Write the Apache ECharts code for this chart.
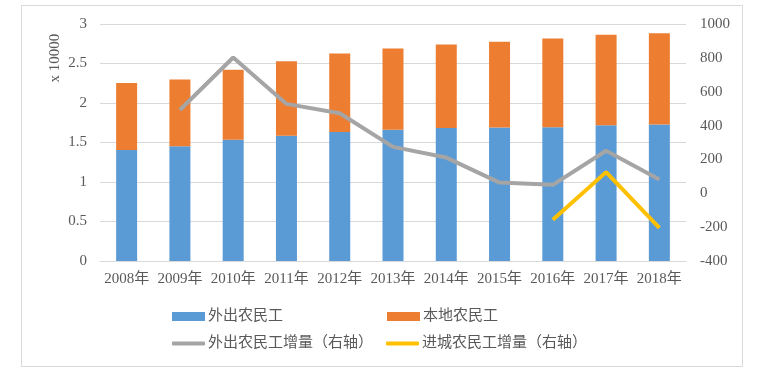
<!DOCTYPE html>
<html>
<head>
<meta charset="utf-8">
<script src="https://cdn.jsdelivr.net/npm/echarts@6/dist/echarts.min.js"></script>
<style>html,body{margin:0;padding:0;background:#fff;}#c{width:784px;height:375px;}</style>
</head>
<body>
<div id="c"></div>
<script>
var categories = ['2008年','2009年','2010年','2011年','2012年','2013年','2014年','2015年','2016年','2017年','2018年'];
// 万人 / 10000
var outMigrant = [1.4041,1.4533,1.5335,1.5863,1.6336,1.6610,1.6821,1.6884,1.6934,1.7185,1.7266];
var localMigrant = [0.8501,0.8445,0.8888,0.9415,0.9925,1.0284,1.0574,1.0863,1.1237,1.1467,1.1570];
var outIncrease = [null,492,802,528,473,274,211,63,50,251,81];
var cityIncrease = [null,null,null,null,null,null,null,null,-157,125,-204];
var seriesNames = ['外出农民工','本地农民工','外出农民工增量（右轴）','进城农民工增量（右轴）'];
var leftAxisName = 'x 10000';

var FONT = '"Liberation Serif", "Noto Sans CJK SC", serif';
var TXT = '#595959';
var chart = echarts.init(document.getElementById('c'), null, {renderer:'canvas'});
function lg(name, left, top, line) {
  return {
    data:[name], left:left, top:top, orient:'horizontal',
    icon: line ? 'roundRect' : 'rect',
    itemWidth:33, itemHeight: line ? 4 : 9, itemGap:0,
    textStyle:{color:TXT, fontSize:15, fontFamily:FONT, padding:[0,0,0,-2]},
    selectedMode:false, padding:0
  };
}
chart.setOption({
  animation:false,
  backgroundColor:'#fff',
  grid:{left:100, right:98, top:24, bottom:114},
  legend:[
    lg(seriesNames[0],172,309,false),
    lg(seriesNames[1],387,309,false),
    lg(seriesNames[2],172,336,true),
    lg(seriesNames[3],386,336,true)
  ],
  graphic:[
    {type:'rect', shape:{x:21.5,y:5.5,width:721,height:361}, style:{fill:'none', stroke:'#D9D9D9', lineWidth:1}, silent:true, z:-1},
    {type:'text', x:55, y:58, rotation:Math.PI/2, style:{text:leftAxisName, fill:TXT, font:'15px ' + FONT, align:'center', verticalAlign:'middle'}}
  ],
  xAxis:{
    type:'category', data:categories,
    axisLine:{lineStyle:{color:'#D9D9D9'}},
    axisTick:{show:false},
    axisLabel:{color:TXT, fontSize:15, fontFamily:FONT, margin:11, interval:0}
  },
  yAxis:[
    {type:'value', min:0, max:3, interval:0.5,
     axisLine:{show:false}, axisTick:{show:false},
     axisLabel:{color:TXT, fontSize:15, fontFamily:FONT, margin:13},
     splitLine:{lineStyle:{color:'#D9D9D9'}}},
    {type:'value', min:-400, max:1000, interval:200,
     axisLine:{show:false}, axisTick:{show:false},
     axisLabel:{color:TXT, fontSize:15, fontFamily:FONT, margin:14, formatter:function(v){return String(v);}},
     splitLine:{show:false}}
  ],
  series:[
    {name:seriesNames[0], type:'bar', stack:'t', data:outMigrant, barWidth:21, itemStyle:{color:'#5B9BD5'}},
    {name:seriesNames[1], type:'bar', stack:'t', data:localMigrant, barWidth:21, itemStyle:{color:'#ED7D31'}},
    {name:seriesNames[2], type:'line', yAxisIndex:1, data:outIncrease, symbol:'none', lineStyle:{color:'#A5A5A5', width:4}, itemStyle:{color:'#A5A5A5'}, z:5},
    {name:seriesNames[3], type:'line', yAxisIndex:1, data:cityIncrease, symbol:'none', lineStyle:{color:'#FFC000', width:4}, itemStyle:{color:'#FFC000'}, z:6}
  ]
});
</script>
</body>
</html>
